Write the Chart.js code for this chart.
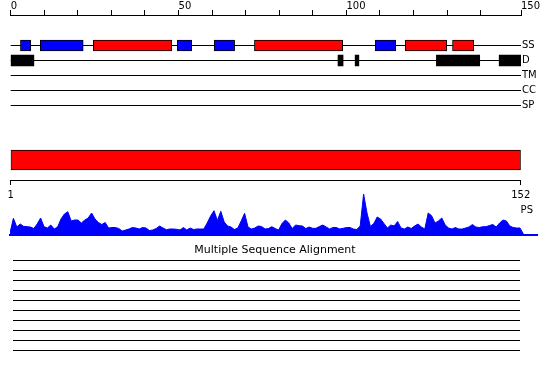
<!DOCTYPE html>
<html>
<head>
<meta charset="utf-8">
<script src="https://cdn.jsdelivr.net/npm/chart.js@4.4.1/dist/chart.umd.min.js"></script>
<style>
html,body{margin:0;padding:0;background:#fff;}
#wrap{position:relative;width:550px;height:380px;overflow:hidden;background:#fff;}
#wrap canvas{position:absolute;left:0;top:0;}
</style>
</head>
<body>
<div id="wrap">
<canvas id="ruler" width="550" height="380"></canvas>
<canvas id="tracks" width="550" height="380"></canvas>
<canvas id="domain" width="550" height="380"></canvas>
<canvas id="ps" width="550" height="380"></canvas>
<canvas id="msa" width="550" height="380"></canvas>
</div>
<script>
// ---------- data ----------
const seqLength = 152;
const rulerTickValues = [0,10,20,30,40,50,60,70,80,90,100,110,120,130,140,152];
const rulerLabelValues = [0,50,100,152];
const rulerLabelTexts = ['0','50','100','150'];
const trackNames = ['SS','D','TM','CC','SP'];
const helixSegments = [[24.6,48.0],[72.6,98.9],[117.5,129.9],[131.6,137.9]];
const strandSegments = [[2.9,6.0],[8.8,21.6],[49.6,53.9],[60.6,66.7],[108.6,114.7]];
const disorderSegments = [[0,6.9],[97.5,99.0],[102.6,103.7],[126.8,139.7],[145.5,152]];
const domainSegments = [[1,152]];
const domainTickValues = [1,152];
const psLabel = 'PS';
const psScores = [
  2,16.7,8,11,8.7,8.3,8,6.5,11,17,
  8.3,7,10,6,8,16,21,23.3,14,15,
  15,12,15,17,22,16,12.5,10.5,12.5,7,
  7.5,7.5,6.5,4,5,6,7.5,7,6,7.5,
  7,4.5,5,6.5,9,7,5.3,6,6,5.7,
  5,7.5,5,7,5.5,6,6,6,12,19,
  24.3,14.5,23.7,13,9,8,5.5,7,14,21.7,
  8,6,7,9,8.5,6,6.5,8.3,6.5,5,
  11.5,15,12,6.5,10,9.3,9,6.5,8,6.7,
  6.7,8.5,10,8,6,7.5,7.5,6,6.7,7.5,
  7.5,6,5.5,9,41,22,8.5,11.5,18,16,
  11.5,7,10,9,13.5,7,6,8,6.5,9,
  11,8,6,22,19.3,12,14,17,10,7,
  6,7.5,6,6,7,8,10.5,8,7.5,8.3,
  8.3,9.5,10.5,8,12,15,14,9,7.5,7,
  7,1
];
const msaTitle = 'Multiple Sequence Alignment';
const msaRowCount = 10;

// ---------- defaults ----------
Chart.defaults.font.family = "'DejaVu Sans', sans-serif";
Chart.defaults.font.size = 10;
Chart.defaults.color = '#000';
Chart.defaults.animation = false;
Chart.defaults.responsive = false;
Chart.defaults.events = [];
Chart.defaults.plugins.legend.display = false;
Chart.defaults.plugins.tooltip.enabled = false;

const noPadX = s => { s.paddingLeft = 0; s.paddingRight = 0; };
const noPadY = s => { s.paddingTop = 0; s.paddingBottom = 0; };

// ---------- ruler ----------
new Chart(document.getElementById('ruler'), {
  type: 'scatter',
  data: { datasets: [] },
  options: {
    layout: { padding: { left: 10.7, right: 29, top: 0, bottom: 355 } },
    scales: {
      x: {
        type: 'linear', position: 'top', min: 0, max: seqLength,
        afterBuildTicks: s => { s.ticks = rulerTickValues.map(v => ({ value: v })); },
        afterFit: s => { s.height = 15; noPadX(s); },
        grid: { display: true, drawOnChartArea: false, drawTicks: true, tickLength: 5, color: '#000', lineWidth: 1 },
        border: { display: true, color: '#000', width: 1 },
        ticks: {
          autoSkip: false, maxRotation: 0, align: 'start', padding: -2,
          callback: v => { const i = rulerLabelValues.indexOf(v); return i >= 0 ? rulerLabelTexts[i] : ''; }
        }
      },
      y: { display: false, min: 0, max: 1 }
    }
  }
});

// ---------- feature tracks ----------
const segData = (segs, track) => segs.map(s => ({ x: s, y: track }));
new Chart(document.getElementById('tracks'), {
  type: 'bar',
  data: {
    labels: trackNames,
    datasets: [
      { label: 'Helix', data: segData(helixSegments, 'SS'), backgroundColor: '#ff0000', borderColor: '#000', borderWidth: 1, borderSkipped: false, barThickness: 11, grouped: false },
      { label: 'Strand', data: segData(strandSegments, 'SS'), backgroundColor: '#0000ff', borderColor: '#000', borderWidth: 1, borderSkipped: false, barThickness: 11, grouped: false },
      { label: 'Disorder', data: segData(disorderSegments, 'D'), backgroundColor: '#000', borderWidth: 0, borderSkipped: false, barThickness: 11, grouped: false }
    ]
  },
  options: {
    indexAxis: 'y',
    layout: { padding: { left: 10.7, right: 0, top: 38, bottom: 267 } },
    scales: {
      x: { type: 'linear', min: 0, max: seqLength, display: false },
      y: {
        type: 'category', position: 'right', offset: true,
        afterFit: s => { s.width = 29; noPadY(s); },
        grid: { offset: false, color: '#000', lineWidth: 1, drawTicks: false },
        border: { display: false },
        ticks: { padding: 1, color: '#000' }
      }
    }
  }
});

// ---------- domain bar ----------
new Chart(document.getElementById('domain'), {
  type: 'bar',
  data: {
    labels: ['domain'],
    datasets: [
      { data: domainSegments.map(s => ({ x: s, y: 'domain' })), backgroundColor: '#ff0000', borderColor: '#000', borderWidth: 1, borderSkipped: false, barThickness: 20 }
    ]
  },
  options: {
    indexAxis: 'y',
    layout: { padding: { left: 10.7, right: 29.3, top: 140, bottom: 180 } },
    scales: {
      x: {
        type: 'linear', position: 'bottom', min: 1, max: seqLength,
        afterBuildTicks: s => { s.ticks = domainTickValues.map(v => ({ value: v })); },
        afterFit: s => { s.height = 20; noPadX(s); },
        grid: { display: true, drawOnChartArea: false, drawTicks: true, tickLength: 5, color: '#000' },
        border: { display: true, color: '#000', width: 1 },
        ticks: { autoSkip: false, maxRotation: 0, padding: 4 }
      },
      y: { display: false }
    }
  }
});

// ---------- PS profile ----------
new Chart(document.getElementById('ps'), {
  type: 'line',
  data: {
    datasets: [{
      data: psScores.map((v, i) => ({ x: i + 1, y: v })),
      fill: 'origin', backgroundColor: '#0000ff', borderColor: '#0000ff', borderWidth: 1,
      pointRadius: 0, tension: 0
    }]
  },
  options: {
    layout: { padding: { left: 10, right: 13, top: 190, bottom: 145 } },
    scales: {
      x: {
        type: 'linear', min: 1, max: 156,
        afterFit: s => { s.height = 0; noPadX(s); },
        ticks: { display: false }, grid: { display: false },
        border: { display: true, color: '#0000ff', width: 2 }
      },
      y: {
        type: 'linear', position: 'right', min: 0, max: 45,
        afterBuildTicks: s => { s.ticks = [{ value: 25 }]; },
        afterFit: s => { s.width = 0; noPadY(s); },
        ticks: { mirror: true, padding: -4, callback: () => psLabel },
        grid: { display: false }, border: { display: false }
      }
    }
  }
});

// ---------- MSA ----------
new Chart(document.getElementById('msa'), {
  type: 'scatter',
  data: { datasets: [] },
  options: {
    layout: { padding: { left: 0, right: 0, top: 244, bottom: 30 } },
    plugins: {
      title: { display: true, text: msaTitle, color: '#000', font: { size: 11, weight: 'normal' }, padding: { top: 0, bottom: 3 } }
    },
    scales: {
      x: { display: false, min: 0, max: 1 },
      y: {
        position: 'left', min: 1, max: msaRowCount,
        afterFit: s => { s.width = 12.7; noPadY(s); },
        ticks: { display: false, stepSize: 1 },
        grid: { color: '#000', lineWidth: 1, drawTicks: false },
        border: { display: false }
      },
      y2: {
        position: 'right', min: 0, max: 1,
        afterFit: s => { s.width = 30; noPadY(s); },
        ticks: { display: false }, grid: { display: false }, border: { display: false }
      }
    }
  }
});
</script>
</body>
</html>
